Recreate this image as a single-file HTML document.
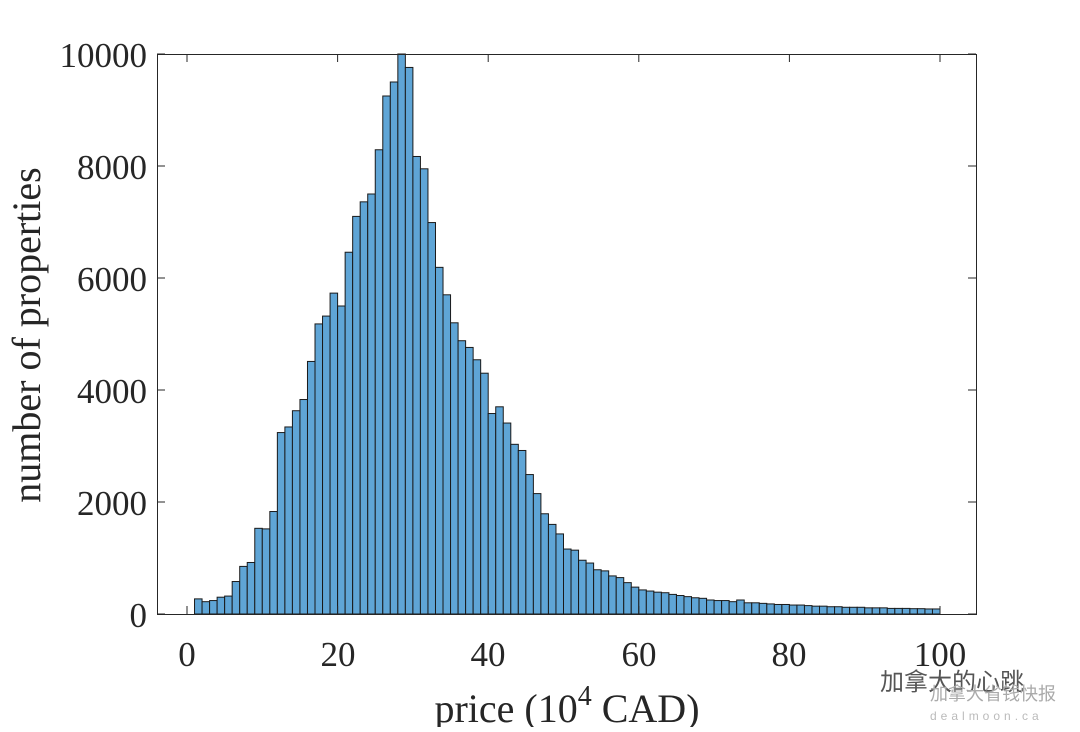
<!DOCTYPE html>
<html><head><meta charset="utf-8"><style>body{margin:0;background:#fff}</style></head><body>
<svg id="s" width="1080" height="727" xmlns="http://www.w3.org/2000/svg" font-family="Liberation Serif, serif">
<rect width="1080" height="727" fill="#fff"/>
<g id="bars"></g>
<rect x="157.5" y="54.5" width="819" height="560" fill="none" stroke="#262626" stroke-width="1"/>
<g id="ticks" stroke="#262626" stroke-width="1"></g>
<g font-size="35" fill="#262626" text-anchor="end">
<text x="147" y="627">0</text><text x="147" y="515">2000</text><text x="147" y="403">4000</text><text x="147" y="291">6000</text><text x="147" y="179">8000</text><text x="147" y="67">10000</text>
</g>
<g font-size="35" fill="#262626" text-anchor="middle">
<text x="187" y="666">0</text><text x="338" y="666">20</text><text x="488" y="666">40</text><text x="639" y="666">60</text><text x="789" y="666">80</text><text x="940" y="666">100</text>
</g>
<text x="567" y="722" font-size="40" text-anchor="middle" fill="#262626">price (10<tspan dy="-17" font-size="28">4</tspan><tspan dy="17"> CAD)</tspan></text>
<text transform="translate(40,335) rotate(-90)" font-size="40" text-anchor="middle" fill="#262626">number of properties</text>
<text x="880" y="690" font-size="24" fill="#555" font-family="Liberation Sans, Noto Sans CJK SC, sans-serif">加拿大的心跳</text>
<text x="930" y="700" font-size="18" fill="#aaa" font-family="Liberation Sans, Noto Sans CJK SC, sans-serif">加拿大省钱快报</text>
<text x="930" y="720" font-size="12" fill="#bbb" font-family="Liberation Sans, sans-serif" letter-spacing="4">dealmoon.ca</text>
</svg>
<script>
var h=[270,220,240,300,320,580,850,920,1530,1520,1830,3240,3340,3630,3830,4510,5180,5320,5730,5500,6460,7100,7360,7500,8290,9250,9500,10000,9760,8170,7950,6990,6190,5700,5200,4880,4760,4540,4300,3580,3700,3410,3030,2920,2490,2150,1790,1600,1430,1160,1140,960,910,790,770,680,650,560,480,430,410,390,380,350,330,310,290,280,250,240,240,220,250,200,200,190,180,170,170,160,160,150,140,140,130,130,120,120,120,110,110,110,100,100,100,95,95,90,90];
var ns="http://www.w3.org/2000/svg",g=document.getElementById("bars"),x0=187,k=7.53,y0=614,sy=0.056;
h.forEach(function(v,i){var r=document.createElementNS(ns,"rect");var x=x0+(i+1)*k;r.setAttribute("x",x);r.setAttribute("y",y0-v*sy);r.setAttribute("width",k);r.setAttribute("height",v*sy);r.setAttribute("fill","#5fa5d6");r.setAttribute("stroke","#1a1a1a");r.setAttribute("stroke-width","1");g.appendChild(r);});
var t=document.getElementById("ticks"),s="";
[0,20,40,60,80,100].forEach(function(v){var x=x0+v*k;s+='<line x1="'+x+'" y1="614" x2="'+x+'" y2="606"/><line x1="'+x+'" y1="54" x2="'+x+'" y2="62"/>';});
[0,2000,4000,6000,8000,10000].forEach(function(v){var y=y0-v*sy;s+='<line x1="157" y1="'+y+'" x2="165" y2="'+y+'"/><line x1="976" y1="'+y+'" x2="968" y2="'+y+'"/>';});
t.innerHTML=s;
</script>
</body></html>
